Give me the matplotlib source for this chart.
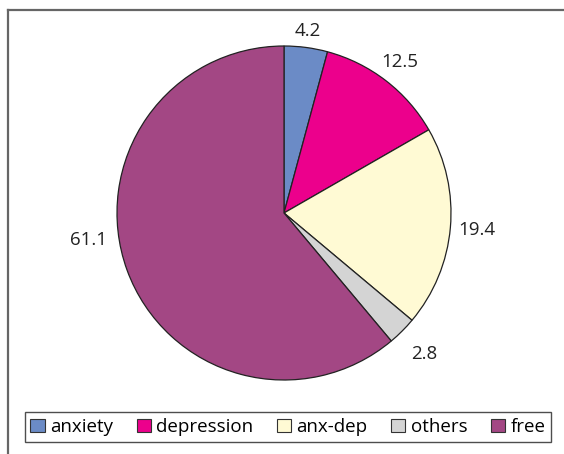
import matplotlib
matplotlib.use("Agg")
import matplotlib.pyplot as plt
import numpy as np
from matplotlib.patches import Patch
from matplotlib.lines import Line2D

plt.rcParams['font.family'] = ['Open Sans', 'DejaVu Sans']

categories = ["anxiety", "depression", "anx-dep", "others", "free"]
values = [4.2, 12.5, 19.4, 2.8, 61.1]
value_labels = ["4.2", "12.5", "19.4", "2.8", "61.1"]
colors = ["#6B8BC6", "#EC008C", "#FFFAD4", "#D4D4D4", "#A34784"]

W, H = 564, 454
fig = plt.figure(figsize=(W / 100, H / 100), dpi=100)

# outer frame (top & left visible)
fig.add_artist(Line2D([8 / W, 8 / W], [0, 1 - 10 / H], transform=fig.transFigure,
                      color="#666666", lw=1.6))
fig.add_artist(Line2D([8 / W, 1], [1 - 10 / H, 1 - 10 / H], transform=fig.transFigure,
                      color="#666666", lw=1.6))

cx, cy, r = 284, 213, 167
ax = fig.add_axes([(cx - r) / W, (H - cy - r) / H, 2 * r / W, 2 * r / H])
wedges, _ = ax.pie(values, colors=colors, startangle=90, counterclock=False,
                   radius=1.0,
                   wedgeprops=dict(edgecolor="#222222", linewidth=0.9))
ax.set_xlim(-1, 1)
ax.set_ylim(-1, 1)
ax.set_aspect("equal")
ax.axis("off")

dist = [1.10, 1.14, 1.16, 1.19, 1.18]
for w, lab, d in zip(wedges, value_labels, dist):
    ang = np.deg2rad((w.theta1 + w.theta2) / 2)
    if lab == "61.1":
        ang = np.deg2rad(188)
    ax.text(d * np.cos(ang), d * np.sin(ang), lab, ha="center", va="center",
            fontsize=13.5, color="#222222", clip_on=False)

handles = [Patch(facecolor=c, edgecolor="#333333", linewidth=0.8) for c in colors]
leg = fig.legend(handles, categories, loc="center",
                 bbox_to_anchor=(288 / W, 1 - 427 / H), ncol=5, frameon=True,
                 fontsize=13.5, handlelength=0.75, handleheight=0.75,
                 handletextpad=0.3, columnspacing=1.25, borderpad=0.3,
                 fancybox=False, edgecolor="#222222")
leg.get_frame().set_linewidth(1.0)

fig.savefig("out.png", dpi=100)
